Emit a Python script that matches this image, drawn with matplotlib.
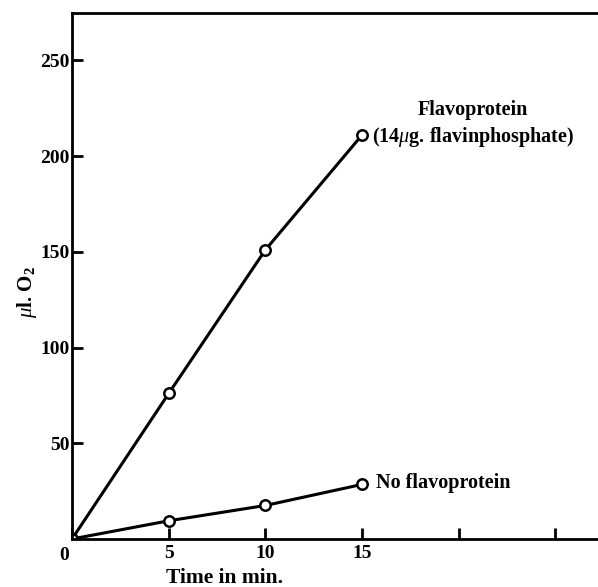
import matplotlib
matplotlib.use("Agg")
import matplotlib.pyplot as plt

time_min = [0, 5, 10, 15]
flavoprotein = [0, 76, 151, 211]
no_flavoprotein = [0, 9.5, 17.5, 28.5]
x_ticks = [0, 5, 10, 15, 20, 25]
x_tick_labels = ["", "5", "10", "15", "", ""]
y_ticks = [50, 100, 150, 200, 250]
y_tick_labels = ["50", "100", "150", "200", "250"]

plt.rcParams['font.family'] = ['Liberation Serif', 'DejaVu Serif']
plt.rcParams['mathtext.fontset'] = 'custom'
plt.rcParams['mathtext.rm'] = 'Liberation Serif'
plt.rcParams['mathtext.it'] = 'Liberation Serif:italic'
plt.rcParams['mathtext.bf'] = 'Liberation Serif:bold'

fig = plt.figure(figsize=(5.98, 5.87), dpi=100)
ax = fig.add_axes([0.1204, 0.0818, 0.8796, 0.896])

style = dict(color='black', lw=2.2, marker='o', ms=7.5, mfc='white', mec='black', mew=1.8)
ax.plot(time_min, flavoprotein, **style)
ax.plot(time_min, no_flavoprotein, **style)

ax.set_xlim(0, 27.2)
ax.set_ylim(0, 274.7)
ax.spines['right'].set_visible(False)
for s in ['left', 'bottom', 'top']:
    ax.spines[s].set_linewidth(2)

ax.set_xticks(x_ticks)
ax.set_xticklabels(x_tick_labels)
ax.set_yticks(y_ticks)
ax.set_yticklabels(y_tick_labels)
ax.tick_params(axis='both', direction='in', length=8, width=2, labelsize=14, pad=4)
for lbl in ax.get_xticklabels() + ax.get_yticklabels():
    lbl.set_fontweight('bold')
ax.tick_params(axis='y', pad=2)

ax.text(-0.4, -4, "0", ha='center', va='top', fontsize=14, fontweight='bold', clip_on=False)

ax.set_xlabel("Time in min.", fontsize=15.5, fontweight='bold')
ax.xaxis.set_label_coords(0.29, -0.056)
ax.set_ylabel(r"$\mu$l. O$_{\mathbf{2}}$", fontsize=15, fontweight='bold')
ax.yaxis.set_label_coords(-0.062, 0.47)

ax.text(20.75, 224, "Flavoprotein", ha='center', va='center', fontsize=14.5, fontweight='bold')
ax.text(15.5, 210, r"($\mathbf{14}\mu$g. flavinphosphate)", ha='left', va='center', fontsize=14.5, fontweight='bold')
ax.text(15.7, 29, "No flavoprotein", ha='left', va='center', fontsize=14.5, fontweight='bold')

fig.savefig("out.png", dpi=100)
